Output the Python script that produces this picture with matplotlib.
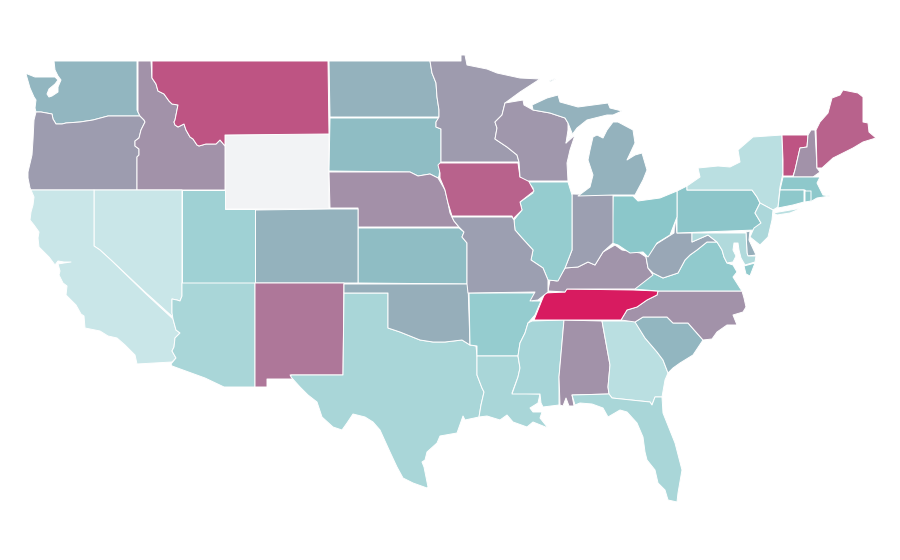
import matplotlib
matplotlib.use('Agg')
import matplotlib.pyplot as plt
from matplotlib.colors import LinearSegmentedColormap

# State outlines in pixel units
# ------------------------------------------------------------------------------
WA = [(54,61),(137,61),(137,110),(140,116),(108,116),(93,120),(80,122),(66,123),(62,124),(56,124),(53,119),(52,114),(41,112),(36,112),(35,108),(36,100),(34,97),(30,88),(26,74),(25,73),(35,77),(45,77),(55,77),(58,80),(55,84),(49,89),(47,94),(49,97),(52,96),(58,92),(58,87),(61,80),(58,76),(55,70)]
OR = [(36,112),(41,112),(52,114),(53,119),(56,124),(62,124),(66,123),(80,122),(93,120),(108,116),(140,116),(144,120),(145,122),(141,130),(139,138),(135,141),(135,146),(139,149),(139,155),(137,157),(137,190),(31,190),(30,188),(28,178),(28,172),(32,155),(33,140),(34,120)]
ID = [(138,61),(151,61),(152,78),(156,84),(158,91),(164,94),(169,101),(172,104),(178,105),(176,115),(175,120),(174,122),(175,125),(178,127),(184,124),(186,130),(190,137),(193,139),(197,145),(199,146),(206,144),(216,144),(220,140),(225,146),(225,190),(137,190),(137,157),(139,155),(139,149),(135,146),(135,141),(139,138),(141,130),(145,122),(144,120),(140,116),(138,112)]
MT = [(152,61),(328,61),(329,134),(225,135),(225,146),(220,140),(216,144),(206,144),(199,146),(197,145),(193,139),(190,137),(186,130),(184,124),(178,127),(175,125),(174,122),(175,120),(176,115),(178,105),(172,104),(169,101),(164,94),(158,91),(156,84),(152,78)]
WY = [(225,135),(329,134),(329,209),(225,209)]
ND = [(329,61),(430,61),(432,73),(436,83),(437,97),(439,110),(439,117),(330,117)]
SD = [(330,118),(439,118),(436,122),(436,127),(441,129),(441,162),(439,165),(440,168),(439,176),(438,178),(430,174),(418,176),(410,172),(329,171)]
NE = [(329,172),(410,172),(418,176),(430,174),(438,178),(441,183),(445,190),(448,203),(450,213),(454,221),(459,227),(358,227),(358,208),(330,208)]
KS = [(358,228),(459,228),(464,232),(462,237),(467,243),(467,284),(358,283)]
CO = [(255,210),(330,209),(358,209),(358,283),(255,283)]
UT = [(182,190),(225,190),(225,209),(255,209),(255,283),(182,283)]
NV = [(94,190),(182,190),(182,296),(180,301),(177,300),(172,299),(172,313),(174,318),(145,292),(112,261),(100,250),(94,246)]
CA = [(31,190),(94,190),(94,246),(100,250),(112,261),(145,293),(173,319),(176,330),(180,333),(175,338),(174,347),(172,351),(176,358),(172,362),(137,364),(135,355),(125,345),(117,338),(108,336),(100,331),(90,329),(85,328),(84,316),(81,314),(76,305),(66,295),(67,286),(63,283),(59,275),(60,271),(58,264),(64,263),(71,262),(64,262),(58,261),(55,265),(49,257),(39,247),(38,238),(39,232),(34,225),(30,220),(31,212),(33,205),(34,197)]
AZ = [(182,283),(255,283),(255,387),(224,387),(205,378),(172,366),(171,364),(176,358),(172,351),(174,347),(175,338),(180,333),(176,330),(173,319),(172,313),(172,299),(177,300),(180,301),(182,296)]
NM = [(255,283),(344,283),(343,375),(290,375),(293,379),(267,379),(267,387),(255,387)]
TX = [(344,293),(388,293),(388,328),(400,332),(420,340),(433,342),(445,342),(462,340),(470,345),(476,346),(477,356),(477,375),(482,388),(484,392),(481,405),(479,417),(465,420),(463,416),(457,433),(440,436),(437,443),(427,452),(425,460),(422,462),(424,467),(428,487),(427,488),(413,483),(403,478),(397,467),(390,452),(380,430),(373,422),(365,417),(353,414),(347,423),(342,430),(333,427),(322,417),(317,402),(308,395),(300,387),(291,377),(291,375),(343,375)]
OK = [(344,284),(468,284),(470,345),(462,340),(445,342),(433,342),(420,340),(400,332),(388,328),(388,293),(344,293)]
AR = [(469,293),(536,293),(532,301),(541,301),(535,315),(528,323),(525,333),(520,343),(518,356),(477,356),(477,346),(470,345)]
LA = [(477,356),(518,356),(520,368),(518,377),(512,393),(540,394),(538,403),(530,408),(533,412),(542,412),(540,418),(548,428),(533,422),(527,427),(513,422),(507,415),(500,420),(487,416),(479,417),(481,405),(484,392),(482,388),(477,375)]
MS = [(532,321),(564,320),(559,377),(559,405),(543,407),(541,403),(540,394),(512,394),(518,377),(520,368),(518,356),(520,343),(525,333),(528,323)]
AL = [(564,320),(602,321),(610,365),(608,387),(609,394),(572,395),(574,406),(569,406),(566,398),(563,406),(560,405),(559,377)]
GA = [(602,321),(635,321),(645,338),(657,352),(663,360),(668,373),(665,380),(662,397),(655,397),(652,405),(650,402),(612,398),(609,394),(608,387),(610,365)]
FL = [(572,395),(609,394),(612,398),(650,402),(652,405),(655,397),(662,397),(663,413),(675,443),(682,470),(678,493),(677,502),(668,500),(665,490),(658,483),(655,470),(647,460),(645,452),(643,437),(637,423),(627,412),(620,410),(608,417),(603,408),(592,404),(580,403),(575,405)]
SC = [(635,322),(643,317),(667,317),(673,323),(688,323),(703,340),(693,355),(680,363),(673,368),(668,373),(663,360),(657,352),(645,338)]
NC = [(621,320),(627,310),(637,307),(647,300),(657,295),(658,291),(742,291),(744,298),(746,307),(743,312),(733,315),(737,325),(727,325),(717,332),(712,339),(703,340),(688,323),(673,323),(667,317),(643,317),(635,322)]
TN = [(534,320),(542,300),(545,293),(565,292),(566,289),(633,290),(658,291),(657,295),(647,300),(637,307),(627,310),(621,320)]
VA = [(633,289),(647,278),(653,273),(663,278),(678,273),(685,260),(690,255),(697,250),(707,242),(717,242),(722,250),(724,257),(727,263),(733,265),(737,272),(733,277),(740,288),(742,291),(658,291)]
VA_SHORE = [(744,266),(755,263),(750,276),(746,274)]
KY = [(548,291),(550,280),(557,281),(565,268),(578,267),(588,262),(595,265),(603,252),(615,245),(622,250),(640,253),(646,257),(648,268),(653,275),(635,289),(567,289),(565,292)]
WV = [(646,257),(652,247),(658,243),(674,233),(675,217),(677,233),(692,233),(692,242),(708,235),(717,242),(707,242),(697,250),(690,255),(685,260),(678,273),(663,278),(653,273),(648,268)]
PA = [(677,191),(687,186),(687,190),(752,190),(757,197),(760,203),(755,213),(761,223),(755,230),(677,233)]
OH = [(613,196),(633,196),(638,201),(660,198),(677,191),(677,217),(670,235),(657,243),(648,257),(643,252),(630,253),(618,245),(612,243)]
IN = [(572,194),(613,195),(613,243),(603,252),(595,265),(588,262),(578,267),(565,268),(572,250)]
IL = [(528,182),(568,182),(572,195),(572,250),(565,268),(558,281),(548,280),(543,268),(531,260),(533,250),(522,238),(515,230),(514,220),(522,210),(520,202),(533,193),(533,188)]
IA = [(440,163),(518,163),(520,177),(527,178),(534,191),(520,202),(522,210),(513,219),(512,216),(452,216),(448,203),(445,190),(440,178),(440,173),(438,165)]
MO = [(452,217),(512,217),(514,220),(515,230),(522,238),(533,250),(531,260),(543,268),(548,280),(548,292),(538,300),(530,301),(535,292),(468,293),(467,284),(467,243),(462,237),(464,232),(459,227),(454,221)]
MN = [(430,61),(461,61),(461,55),(465,55),(467,65),(487,69),(497,73),(520,78),(540,79),(520,92),(505,103),(502,115),(495,122),(497,128),(495,139),(507,147),(517,155),(519,162),(441,162),(441,129),(436,127),(436,122),(439,117),(439,110),(437,97),(436,83),(432,73)]
WI = [(505,103),(523,100),(524,105),(533,110),(550,113),(565,118),(568,123),(568,130),(566,143),(575,135),(570,150),(567,163),(568,181),(528,181),(520,177),(519,162),(517,155),(507,147),(495,139),(497,128),(495,122),(502,115)]
MI_LOWER = [(578,196),(590,187),(593,175),(588,160),(590,150),(593,137),(597,135),(603,138),(607,130),(613,122),(618,122),(633,130),(635,143),(627,160),(635,155),(642,153),(647,170),(643,180),(635,195),(613,195)]
MI_UPPER = [(532,105),(547,98),(558,95),(560,102),(578,107),(593,105),(608,103),(610,108),(622,111),(613,115),(607,115),(587,120),(577,128),(566,143),(572,133),(568,123),(565,118),(550,113),(533,110)]
MI_ISLE = [(549,81),(556,78),(556,79),(550,82)]
NY = [(687,186),(700,177),(698,168),(718,166),(730,167),(740,162),(738,150),(753,137),(782,135),(783,173),(780,187),(778,207),(773,210),(760,203),(757,197),(752,190),(687,190)]
NY_LONG = [(773,213),(802,208),(790,213),(777,215)]
VT = [(782,135),(808,135),(807,147),(800,148),(795,170),(793,176),(783,176),(783,160)]
NH = [(811,130),(815,130),(817,168),(820,172),(813,177),(793,177),(795,170),(800,148),(807,147),(808,135)]
ME = [(816,130),(820,122),(828,113),(832,98),(840,95),(843,90),(858,93),(863,97),(863,122),(868,123),(869,132),(876,138),(863,142),(853,148),(845,152),(833,158),(822,168),(817,168)]
MA = [(783,177),(820,177),(817,183),(823,195),(830,196),(817,198),(810,202),(805,190),(780,190)]
RI = [(805,191),(811,191),(811,201),(805,202)]
CT = [(780,190),(804,190),(804,202),(793,205),(778,208)]
NJ = [(760,203),(773,210),(772,220),(768,237),(760,245),(750,237),(754,228),(761,223),(755,213)]
DE = [(746,232),(750,231),(749,240),(756,255),(748,256),(747,253)]
MD = [(692,233),(746,233),(747,253),(748,256),(756,256),(755,262),(745,265),(741,258),(739,250),(738,243),(734,243),(733,250),(736,256),(733,262),(727,263),(724,257),(722,250),(717,242),(708,235),(692,242)]

# Values per state, 0 = lightest, 1 = darkest
# ------------------------------------------------------------------------------
names = ['WA','OR','ID','MT','ND','SD','NE','KS','CO','UT','NV','CA','AZ','NM','TX','OK','AR','LA','MS','AL','GA','FL','SC','NC','TN','VA','KY','WV','PA','OH','IN','IL','IA','MO','MN','WI','MI','NY','VT','NH','ME','MA','RI','CT','NJ','DE','MD']
values = [0.33,0.45,0.50,0.76,0.35,0.30,0.51,0.30,0.35,0.17,0.0,0.0,0.13,0.61,0.13,0.37,0.21,0.13,0.14,0.50,0.06,0.13,0.33,0.50,1.0,0.23,0.49,0.40,0.26,0.25,0.44,0.21,0.70,0.44,0.46,0.48,0.35,0.06,0.76,0.50,0.70,0.24,0.24,0.24,0.12,0.37,0.10]
outlines = [[WA],[OR],[ID],[MT],[ND],[SD],[NE],[KS],[CO],[UT],[NV],[CA],[AZ],[NM],[TX],[OK],[AR],[LA],[MS],[AL],[GA],[FL],[SC],[NC],[TN],[VA,VA_SHORE],[KY],[WV],[PA],[OH],[IN],[IL],[IA],[MO],[MN],[WI],[MI_LOWER,MI_UPPER,MI_ISLE],[NY,NY_LONG],[VT],[NH],[ME],[MA],[RI],[CT],[NJ],[DE],[MD]]

# Wyoming has no data
no_data_color = '#f2f3f5'

cmap = LinearSegmentedColormap.from_list('teal_crimson', [(0,'#c9e6e8'),(0.25,'#8bc7ca'),(0.5,'#a292a9'),(1,'#d81b60')])

fig = plt.figure(figsize=(9,5.6), dpi=100)
ax = fig.add_axes([0,0,1,1])

# Wyoming first so the neighbours' edges sit on top
xs, ys = zip(*WY)
ax.fill(xs, ys, facecolor=no_data_color, edgecolor='white', linewidth=0.7)

for name, value, rings in zip(names, values, outlines):
    for ring in rings:
        xs, ys = zip(*ring)
        ax.fill(xs, ys, facecolor=cmap(value), edgecolor='white', linewidth=0.7, joinstyle='round')

ax.set_xlim(0,900)
ax.set_ylim(560,0)
ax.axis('off')
fig.savefig('out.png', dpi=100, facecolor='white')
